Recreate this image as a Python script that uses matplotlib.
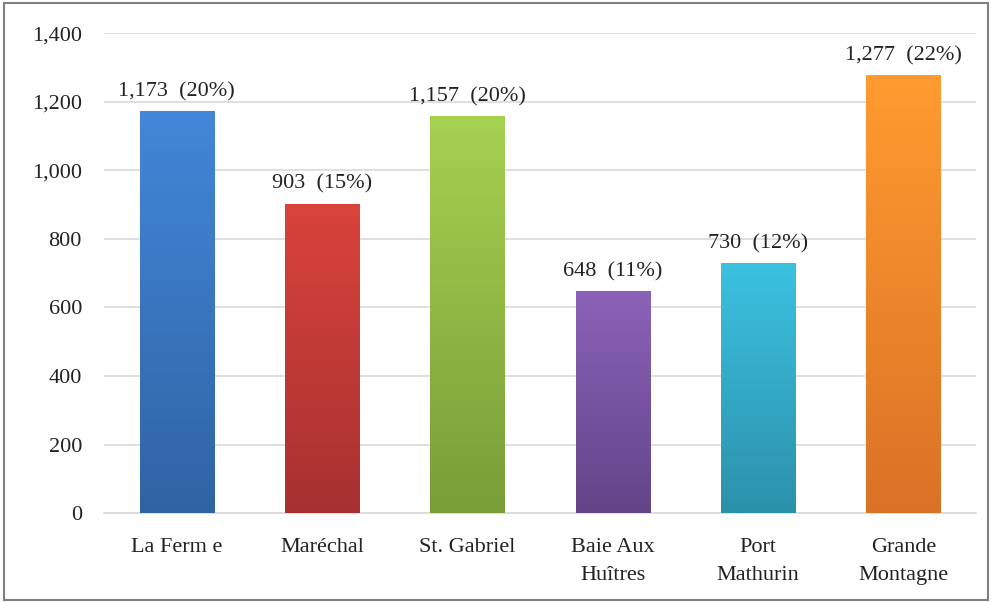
import numpy as np
import matplotlib.pyplot as plt
from matplotlib.colors import LinearSegmentedColormap
from matplotlib.patches import Rectangle

# Datos
sitios = ['La Ferm e', 'Maréchal', 'St. Gabriel', 'Baie Aux\nHuîtres', 'Port\nMathurin', 'Grande\nMontagne']
valores = [1173, 903, 1157, 648, 730, 1277]
porcentajes = [20, 15, 20, 11, 12, 22]

# Colores (arriba, abajo) para el degradado
colores_top = ['#4387d9', '#d9433b', '#a6d150', '#8a63b9', '#3cc1e1', '#ff9b30']
colores_bot = ['#2f64a3', '#a73131', '#799d38', '#634589', '#2b91aa', '#da7226']

plt.rcParams['font.family'] = ['Liberation Serif', 'DejaVu Serif']

fig = plt.figure(figsize=(9.92, 6.03), dpi=100)
ax = fig.add_axes([0.105, 0.149, 0.879, 0.796])

x = np.arange(len(sitios))
barras = ax.bar(x, valores, width=0.51, color=colores_top, zorder=2)

# Degradado vertical en cada barra
grad = np.linspace(0, 1, 256).reshape(-1, 1)
for b, ct, cb in zip(barras, colores_top, colores_bot):
    cmap = LinearSegmentedColormap.from_list('g', [cb, ct])
    x0, w, h = b.get_x(), b.get_width(), b.get_height()
    im = ax.imshow(grad, cmap=cmap, extent=[x0, x0 + w, 0, h], origin='lower',
                   aspect='auto', zorder=3)
    im.set_clip_path(b)

# Etiquetas de valor
for xi, v, p in zip(x, valores, porcentajes):
    ax.annotate(f'{v:,}  ({p}%)', (xi, v), xytext=(0, 7), textcoords='offset points',
                ha='center', va='bottom', fontsize=16, color='#222222')

ax.set_xlim(-0.5, len(sitios) - 0.5)
ax.set_ylim(0, 1400)
ax.set_yticks(np.arange(0, 1401, 200))
ax.set_yticklabels([f'{t:,}' for t in range(0, 1401, 200)])
ax.set_xticks(x)
ax.set_xticklabels(sitios, linespacing=1.65)
ax.tick_params(axis='y', length=0, pad=16, labelsize=16, labelcolor='#222222')
ax.tick_params(axis='x', length=0, pad=18, labelsize=16, labelcolor='#222222')

ax.yaxis.grid(True, color='#d9d9d9', linewidth=1.2, zorder=0)
ax.set_axisbelow(True)
for s in ['top', 'right', 'left']:
    ax.spines[s].set_visible(False)
ax.spines['bottom'].set_color('#d9d9d9')
ax.spines['bottom'].set_linewidth(1.2)

# Borde del gráfico
fig.patches.append(Rectangle((0.004, 0.005), 0.992, 0.99, transform=fig.transFigure,
                             fill=False, edgecolor='#7f7f7f', linewidth=1.5))

fig.savefig('out.png', dpi=100)
